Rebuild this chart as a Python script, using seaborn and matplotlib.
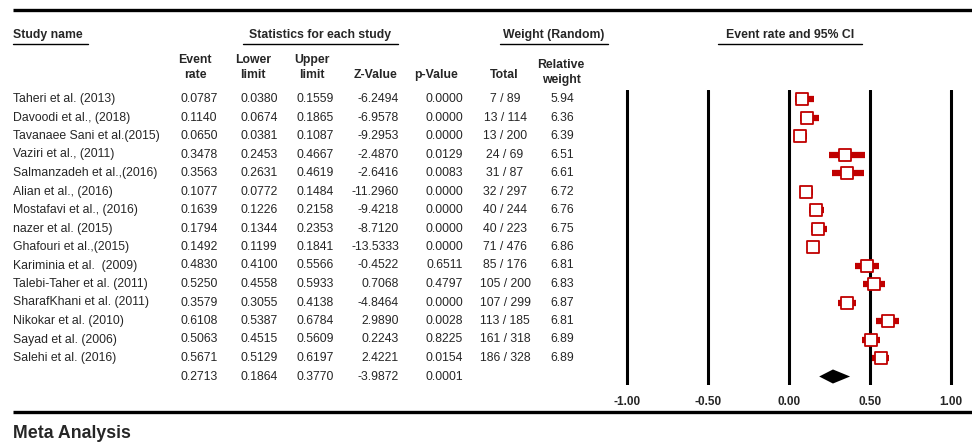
"""
Forest plot (CMA style) for pooled event rate, random-effects model.
"""

import numpy as np
import matplotlib.pyplot as plt
import seaborn as sns

# ─── Data ────────────────────────────────────────────────────────────────────

studies = [
    "Taheri et al. (2013)", "Davoodi et al., (2018)", "Tavanaee Sani et al.(2015)",
    "Vaziri et al., (2011)", "Salmanzadeh et al.,(2016)", "Alian et al., (2016)",
    "Mostafavi et al., (2016)", "nazer et al. (2015)", "Ghafouri et al.,(2015)",
    "Kariminia et al.  (2009)", "Talebi-Taher et al. (2011)", "SharafKhani et al. (2011)",
    "Nikokar et al. (2010)", "Sayad et al. (2006)", "Salehi et al. (2016)",
]
event_rate = [0.0787, 0.1140, 0.0650, 0.3478, 0.3563, 0.1077, 0.1639, 0.1794,
              0.1492, 0.4830, 0.5250, 0.3579, 0.6108, 0.5063, 0.5671]
lower = [0.0380, 0.0674, 0.0381, 0.2453, 0.2631, 0.0772, 0.1226, 0.1344,
         0.1199, 0.4100, 0.4558, 0.3055, 0.5387, 0.4515, 0.5129]
upper = [0.1559, 0.1865, 0.1087, 0.4667, 0.4619, 0.1484, 0.2158, 0.2353,
         0.1841, 0.5566, 0.5933, 0.4138, 0.6784, 0.5609, 0.6197]
z_value = [-6.2494, -6.9578, -9.2953, -2.4870, -2.6416, -11.2960, -9.4218, -8.7120,
           -13.5333, -0.4522, 0.7068, -4.8464, 2.9890, 0.2243, 2.4221]
p_value = [0.0000, 0.0000, 0.0000, 0.0129, 0.0083, 0.0000, 0.0000, 0.0000,
           0.0000, 0.6511, 0.4797, 0.0000, 0.0028, 0.8225, 0.0154]
events = [7, 13, 13, 24, 31, 32, 40, 40, 71, 85, 105, 107, 113, 161, 186]
totals = [89, 114, 200, 69, 87, 297, 244, 223, 476, 176, 200, 299, 185, 318, 328]
rel_weight = [5.94, 6.36, 6.39, 6.51, 6.61, 6.72, 6.76, 6.75, 6.86, 6.81,
              6.83, 6.87, 6.81, 6.89, 6.89]

pooled = {"rate": 0.2713, "lower": 0.1864, "upper": 0.3770, "z": -3.9872, "p": 0.0001}

x_ticks = [-1.0, -0.5, 0.0, 0.5, 1.0]

# ─── Style ───────────────────────────────────────────────────────────────────

sns.set_theme(style="white")
plt.rcParams["font.family"] = ["Liberation Sans", "DejaVu Sans"]

RED = "#C00000"
FS = 8.8
ROW0, DY = 99, 18.5          # pixel y of first row and row pitch
W, H = 972, 443


def main():
    fig = plt.figure(figsize=(W / 100, H / 100), dpi=100)

    # background axes in pixel units for the table part
    bg = fig.add_axes([0, 0, 1, 1])
    bg.set_xlim(0, W)
    bg.set_ylim(H, 0)
    bg.axis("off")

    # thick rules
    bg.plot([13, W], [10, 10], color="black", lw=2.4, solid_capstyle="butt")
    bg.plot([13, W], [412, 412], color="black", lw=2.4, solid_capstyle="butt")

    # group headers with underlines
    groups = [("Study name", 13, 88, "left"),
              ("Statistics for each study", 243, 398, "center"),
              ("Weight (Random)", 500, 608, "center"),
              ("Event rate and 95% CI", 718, 862, "center")]
    for label, x0, x1, ha in groups:
        xt = x0 if ha == "left" else (x0 + x1) / 2
        bg.text(xt, 35, label, ha=ha, va="center", fontsize=FS, fontweight="bold")
        bg.plot([x0, x1], [43.5, 43.5], color="black", lw=1.0)

    # column headers (one entry per text line)
    col_heads = [("Event", 195, 60), ("rate", 195, 75),
                 ("Lower", 253, 60), ("limit", 253, 75),
                 ("Upper", 312, 60), ("limit", 312, 75),
                 ("Z-Value", 375, 75), ("p-Value", 436, 75), ("Total", 504, 75),
                 ("Relative", 561, 65), ("weight", 561, 80)]
    for label, x, y in col_heads:
        bg.text(x, y, label, ha="center", va="center", fontsize=FS, fontweight="bold")

    # study rows
    for i, name in enumerate(studies):
        y = ROW0 + i * DY
        bg.text(13, y, name, ha="left", va="center", fontsize=FS)
        bg.text(199, y, f"{event_rate[i]:.4f}", ha="center", va="center", fontsize=FS)
        bg.text(259, y, f"{lower[i]:.4f}", ha="center", va="center", fontsize=FS)
        bg.text(315, y, f"{upper[i]:.4f}", ha="center", va="center", fontsize=FS)
        bg.text(399, y, f"{z_value[i]:.4f}", ha="right", va="center", fontsize=FS)
        bg.text(463, y, f"{p_value[i]:.4f}", ha="right", va="center", fontsize=FS)
        bg.text(505, y, f"{events[i]} / {totals[i]}", ha="center", va="center", fontsize=FS)
        bg.text(562, y, f"{rel_weight[i]:.2f}", ha="center", va="center", fontsize=FS)

    # pooled row
    y = ROW0 + len(studies) * DY
    bg.text(199, y, f"{pooled['rate']:.4f}", ha="center", va="center", fontsize=FS)
    bg.text(259, y, f"{pooled['lower']:.4f}", ha="center", va="center", fontsize=FS)
    bg.text(315, y, f"{pooled['upper']:.4f}", ha="center", va="center", fontsize=FS)
    bg.text(399, y, f"{pooled['z']:.4f}", ha="right", va="center", fontsize=FS)
    bg.text(463, y, f"{pooled['p']:.4f}", ha="right", va="center", fontsize=FS)

    bg.text(13, 433, "Meta Analysis", ha="left", va="center", fontsize=12.8,
            fontweight="bold")

    # ─── Forest panel ────────────────────────────────────────────────────
    px_per_unit = 162
    zero_px = 789
    pad = 1.09
    top_px, bot_px = 90, 385
    left = (zero_px - pad * px_per_unit) / W
    width = 2 * pad * px_per_unit / W
    ax = fig.add_axes([left, (H - bot_px) / H, width, (bot_px - top_px) / H])
    ax.set_xlim(-pad, pad)
    ax.set_ylim((bot_px - ROW0) / DY, (top_px - ROW0) / DY)
    for s in ax.spines.values():
        s.set_visible(False)
    ax.set_facecolor("none")

    for xv in x_ticks:
        ax.axvline(xv, color="black", lw=2.2, zorder=1)

    rows = np.arange(len(studies))
    ax.hlines(rows, lower, upper, color=RED, lw=4.5, zorder=2)
    sns.scatterplot(x=event_rate, y=rows, marker="s", s=78, color="white",
                    edgecolor=RED, linewidth=1.3, zorder=3, ax=ax, legend=False)

    r = len(studies)
    h = 0.38
    ax.fill([pooled["lower"], pooled["rate"], pooled["upper"], pooled["rate"]],
            [r, r - h, r, r + h], color="black", zorder=3, lw=0)

    ax.set_yticks([])
    ax.set_xticks(x_ticks)
    ax.set_xticklabels([f"{t:.2f}" for t in x_ticks], fontsize=8.5, fontweight="bold")
    ax.tick_params(axis="x", length=0, pad=8)
    ax.grid(False)

    fig.savefig("out.png", dpi=100)
    plt.close(fig)


if __name__ == "__main__":
    main()
